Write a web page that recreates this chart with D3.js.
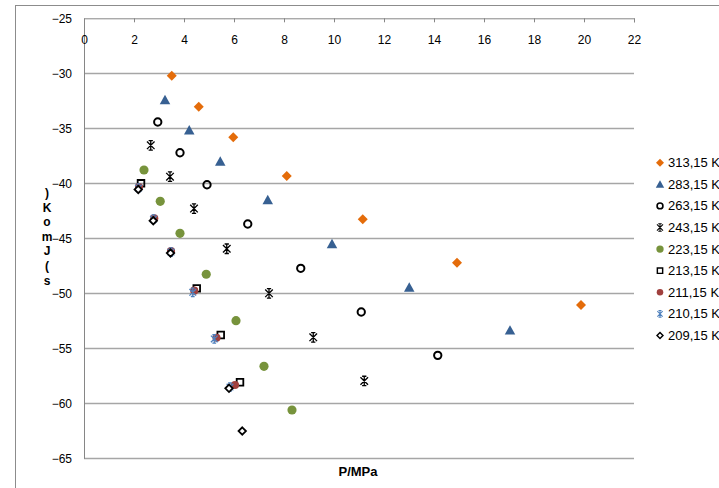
<!DOCTYPE html>
<html><head><meta charset="utf-8">
<script src="https://cdn.jsdelivr.net/npm/d3@7"></script>
<style>body{margin:0;background:#fff}svg{display:block;font-family:Arial,"Liberation Sans",sans-serif}</style>
</head><body><svg id="c" width="719" height="488"></svg>
<script>
// ---- data ----
const seriesLabels = ["313,15 K","283,15 K","263,15 K","243,15 K","223,15 K","213,15 K","211,15 K","210,15 K","209,15 K"];
const p313 = [3.51, 4.59, 5.97, 8.11, 11.15, 14.92, 19.88];
const s313 = [-30.22, -33.04, -35.82, -39.34, -43.27, -47.22, -51.06];
const p283 = [3.24, 4.21, 5.45, 7.35, 9.92, 13.01, 17.04];
const s283 = [-32.4, -35.15, -38.0, -41.5, -45.5, -49.45, -53.35];
const p263 = [2.95, 3.84, 4.92, 6.55, 8.67, 11.09, 14.15];
const s263 = [-34.43, -37.22, -40.13, -43.7, -47.73, -51.7, -55.64];
const p243 = [2.67, 3.44, 4.40, 5.71, 7.40, 9.17, 11.21];
const s243 = [-36.55, -39.4, -42.3, -45.95, -50.0, -54.0, -57.97];
const p223 = [2.40, 3.05, 3.84, 4.89, 6.08, 7.20, 8.32];
const s223 = [-38.79, -41.64, -44.55, -48.27, -52.49, -56.64, -60.61];
const p213 = [2.28, 4.51, 5.47, 6.24];
const s213 = [-40.0, -49.55, -53.79, -58.09];
const p211 = [2.20, 2.81, 3.48, 4.41, 5.30, 6.04];
const s211 = [-40.34, -43.18, -46.15, -49.76, -54.04, -58.34];
const p210 = [2.18, 2.78, 3.48, 4.35, 5.21, 5.84];
const s210 = [-40.43, -43.25, -46.25, -49.91, -54.15, -58.52];
const p209 = [2.17, 2.77, 3.46, 5.80, 6.33];
const s209 = [-40.56, -43.4, -46.34, -58.64, -62.52];
const xTickValues = [0,2,4,6,8,10,12,14,16,18,20,22];
const yTickValues = [-25,-30,-35,-40,-45,-50,-55,-60,-65];
const xTitle = "P/MPa";
const yTitleChars = [")","K","o","m","J","(","s"];

// ---- symbols ----
const star = { draw(ctx, size) {
  const r = Math.sqrt(size) / 2;
  ctx.moveTo(0, -r); ctx.lineTo(0, r);
  ctx.moveTo(-r*0.8, -r*0.8); ctx.lineTo(r*0.8, r*0.8);
  ctx.moveTo(r*0.8, -r*0.8); ctx.lineTo(-r*0.8, r*0.8);
  ctx.moveTo(-r*0.45, -r); ctx.lineTo(r*0.45, -r);
  ctx.moveTo(-r*0.45, r); ctx.lineTo(r*0.45, r);
}};
const diamond = { draw(ctx, size) {
  const r = Math.sqrt(size) / 2;
  ctx.moveTo(0, -r); ctx.lineTo(r, 0); ctx.lineTo(0, r); ctx.lineTo(-r, 0); ctx.closePath();
}};
const triangle = { draw(ctx, size) {
  const r = Math.sqrt(size) / 2;
  ctx.moveTo(0, -r*0.95); ctx.lineTo(r, r*0.85); ctx.lineTo(-r, r*0.85); ctx.closePath();
}};

const series = [
  {label: seriesLabels[0], p: p313, s: s313, type: diamond, size: 100, fill: "#E46C0A", stroke: "none", sw: 0},
  {label: seriesLabels[1], p: p283, s: s283, type: triangle, size: 110, fill: "#376092", stroke: "none", sw: 0},
  {label: seriesLabels[2], p: p263, s: s263, type: d3.symbolCircle, size: 42, fill: "none", stroke: "#000", sw: 2},
  {label: seriesLabels[3], p: p243, s: s243, type: star, size: 90, fill: "none", stroke: "#000", sw: 1.3},
  {label: seriesLabels[4], p: p223, s: s223, type: d3.symbolCircle, size: 66, fill: "#77933C", stroke: "none", sw: 0},
  {label: seriesLabels[5], p: p213, s: s213, type: d3.symbolSquare, size: 44, fill: "none", stroke: "#000", sw: 1.8},
  {label: seriesLabels[6], p: p211, s: s211, type: d3.symbolCircle, size: 52, fill: "#A0403E", stroke: "none", sw: 0},
  {label: seriesLabels[7], p: p210, s: s210, type: star, size: 70, fill: "none", stroke: "#4F81BD", sw: 1.3},
  {label: seriesLabels[8], p: p209, s: s209, type: diamond, size: 55, fill: "#fff", stroke: "#000", sw: 1.8},
];

// ---- chart ----
const svg = d3.select("#c");
svg.append("rect").attr("x", 15.5).attr("y", 5.5).attr("width", 800).attr("height", 600)
  .attr("fill", "#fff").attr("stroke", "#8c8c8c").attr("stroke-width", 1);

const x = d3.scaleLinear().domain([0, 22]).range([84, 634]);
const y = d3.scaleLinear().domain([-65, -25]).range([458.3, 18.3]);

// gridlines
svg.append("g").selectAll("line").data(yTickValues.filter(v => v !== -25)).join("line")
  .attr("x1", x(0)).attr("x2", x(22)).attr("y1", d => Math.round(y(d)) + 0.5).attr("y2", d => Math.round(y(d)) + 0.5)
  .attr("stroke", "#a6a6a6").attr("stroke-width", 1.3);

// y axis
const ya = svg.append("g").attr("transform", `translate(${x(0)},0)`)
  .call(d3.axisLeft(y).tickValues(yTickValues).tickSize(0).tickSizeOuter(0).tickPadding(12).tickFormat(d3.format("d")));
ya.select(".domain").attr("stroke", "#868686");
ya.selectAll("text").attr("font-size", 12).attr("fill", "#000").attr("font-family", "Arial, Liberation Sans, sans-serif");

// x axis (at top)
const xa = svg.append("g").attr("transform", `translate(0,${y(-25)})`)
  .call(d3.axisBottom(x).tickValues(xTickValues).tickSize(4).tickSizeOuter(4).tickPadding(13));
xa.select(".domain").attr("stroke", "#868686");
xa.selectAll(".tick line").attr("stroke", "#868686");
xa.selectAll("text").attr("font-size", 12).attr("fill", "#000").attr("font-family", "Arial, Liberation Sans, sans-serif");

// x title
svg.append("text").attr("x", 358).attr("y", 476).attr("text-anchor", "middle")
  .attr("font-size", 13).attr("font-weight", "bold").text(xTitle);

// y title (stacked characters, upright)
const yt = svg.append("text").attr("font-size", 12).attr("font-weight", "bold").attr("text-anchor", "middle");
yTitleChars.forEach((ch, i) => {
  yt.append("tspan").attr("x", 47).attr("y", 197 + i * 14.6).text(ch);
});

// markers
const sym = d3.symbol();
series.forEach(sr => {
  const pts = sr.p.map((p, i) => [p, sr.s[i]]);
  svg.append("g").selectAll("path").data(pts).join("path")
    .attr("transform", d => `translate(${x(d[0])},${y(d[1])})`)
    .attr("d", sym.type(sr.type).size(sr.size)())
    .attr("fill", sr.fill).attr("stroke", sr.stroke).attr("stroke-width", sr.sw);
});

// legend
const lg = svg.append("g");
series.forEach((sr, i) => {
  const yy = 162.7 + i * 21.6;
  const scale = 0.8;
  lg.append("path").attr("transform", `translate(660,${yy}) scale(${scale})`)
    .attr("d", sym.type(sr.type).size(sr.size)())
    .attr("fill", sr.fill).attr("stroke", sr.stroke).attr("stroke-width", sr.sw);
  lg.append("text").attr("x", 668).attr("y", yy).attr("dy", "0.35em")
    .attr("font-size", 13).text(sr.label);
});
</script></body></html>
